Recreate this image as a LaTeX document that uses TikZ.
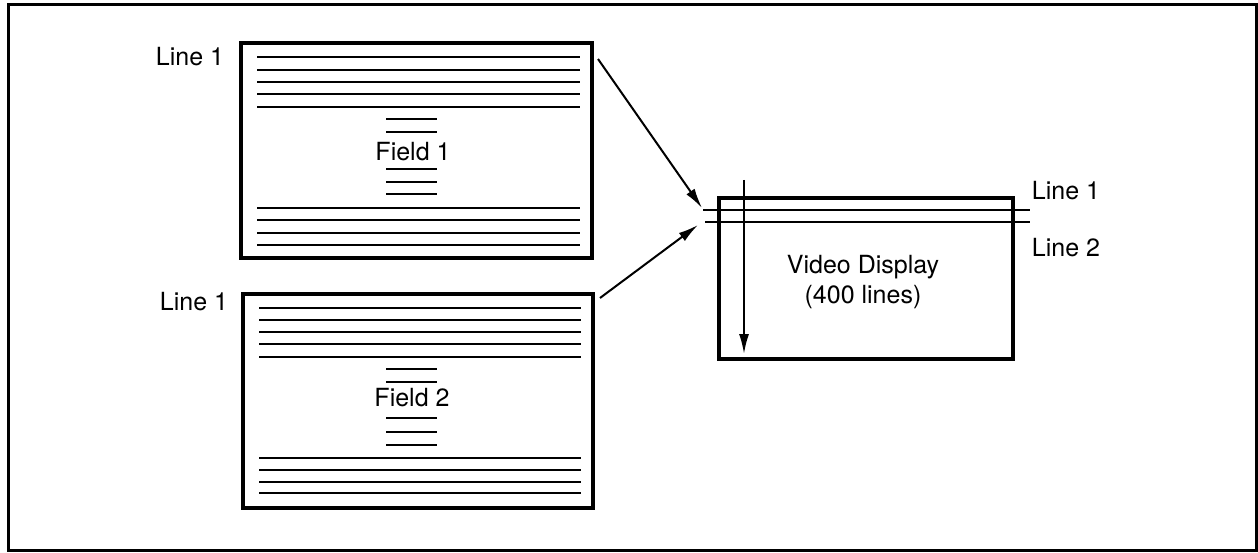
\documentclass[tikz,border=0pt]{standalone}
\usepackage{fontspec}
\setmainfont{TeX Gyre Heros}
\usetikzlibrary{arrows.meta}
\begin{document}
\begin{tikzpicture}[x=1pt,y=-1pt,
  frame/.style={line width=3pt},
  fieldbox/.style={line width=3.6pt},
  scanline/.style={line width=2.5pt},
  thinline/.style={line width=2pt},
  lbl/.style={font=\fontsize{25}{29}\selectfont, inner sep=0pt},
  arr/.style={line width=2pt,-{Latex[length=20pt,width=10pt]}}]
\useasboundingbox (0,0) rectangle (1258,553);
\draw[frame] (8,5) rectangle (1256,550);
% Field 1
\draw[fieldbox] (241,43) rectangle (592,258);
\foreach \y in {57,70,82,94,107,208,220,233,245} \draw[scanline] (257,\y) -- (580,\y);
\foreach \y in {119,132,169,182,194} \draw[scanline] (386,\y) -- (437,\y);
\node[lbl] (f1) at (413,152) {Field 1};
\node[lbl] (l1a) at (190,57) {Line 1};
% Field 2
\draw[fieldbox] (243,294) rectangle (593,508);
\foreach \y in {308,320,332,344,357,458,470,482,493} \draw[scanline] (259,\y) -- (581,\y);
\foreach \y in {369,382,418,432,445} \draw[scanline] (386,\y) -- (437,\y);
\node[lbl] (f2) at (412,398) {Field 2};
\node[lbl] (l1b) at (194,302) {Line 1};
% Display
\draw[fieldbox] (719,198) rectangle (1013,359);
\coordinate (a1) at (703,210);
\coordinate (a2) at (705,222);
\draw[thinline] (a1) -- (1030,210);
\draw[thinline] (a2) -- (1030,222);
\coordinate (vs) at (744,180);
\coordinate (ve) at (744,354);
\draw[arr] (vs) -- (ve);
\node[lbl] (dl1) at (1066,191) {Line 1};
\node[lbl] (dl2) at (1066,248) {Line 2};
\node[lbl, align=center] (vd) at (863,282) {Video Display\\[1pt](400 lines)};
\coordinate (s1) at (598,59);
\coordinate (s2) at (600,298);
\draw[arr] (s1) -- (702,208);
\draw[arr] (s2) -- (698,225);
\end{tikzpicture}
\end{document}
